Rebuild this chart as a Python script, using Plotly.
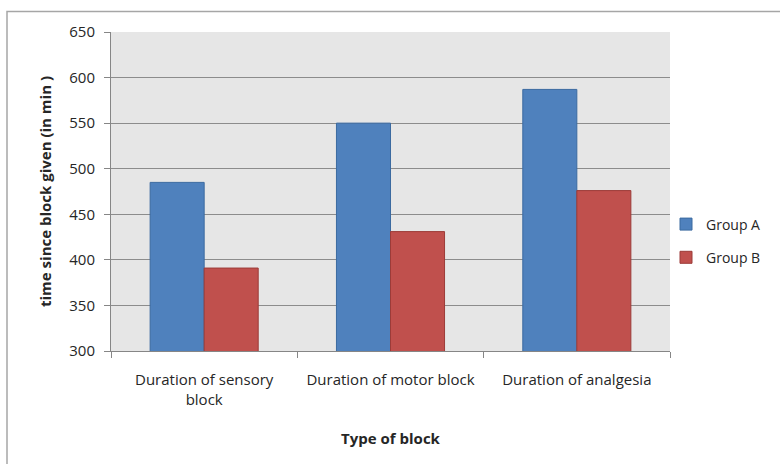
import plotly.graph_objects as go

categories = ["Duration of sensory<br>block", "Duration of motor block", "Duration of analgesia"]
group_a = [485, 550, 587]
group_b = [391, 431, 476]
series_names = ["Group A", "Group B"]
y_ticks = [300, 350, 400, 450, 500, 550, 600, 650]

FONT = "'Open Sans', sans-serif"
L, R, T, B = 111, 110, 32, 113
W, H = 780, 464
pw, ph = W - L - R, H - T - B

def px_x(px):
    return (px - L) / pw

def px_y(py):
    return (H - B - py) / ph

fig = go.Figure()
fig.add_trace(go.Bar(x=categories, y=group_a, name=series_names[0], legendgroup="a",
                     marker=dict(color="#4f81bd", line=dict(color="#3b6aa0", width=1))))
fig.add_trace(go.Bar(x=categories, y=group_b, name=series_names[1], legendgroup="b",
                     marker=dict(color="#c0504d", line=dict(color="#9c3b38", width=1))))

fig.update_layout(
    width=W, height=H,
    margin=dict(l=L, r=R, t=T, b=B, pad=0),
    paper_bgcolor="white",
    plot_bgcolor="#e6e6e6",
    barmode="group", bargap=0.42, bargroupgap=0,
    font=dict(family=FONT, size=15, color="#262626"),
    showlegend=True,
    legend=dict(x=px_x(666), y=px_y(241), xanchor="left", yanchor="middle",
                tracegroupgap=12, font=dict(size=14, color="#262626"),
                bgcolor="rgba(0,0,0,0)"),
    xaxis=dict(
        showline=True, linecolor="#868686", linewidth=1,
        ticks="outside", ticklen=6, tickcolor="#868686", tickson="boundaries",
        showgrid=False, tickfont=dict(size=15), ticklabelstandoff=15,
        title=dict(text="<b>Type of block</b>", font=dict(size=15), standoff=25),
    ),
    yaxis=dict(
        range=[300, 650], tickvals=y_ticks, ticktext=[str(v) for v in y_ticks],
        showline=True, linecolor="#868686", linewidth=1,
        ticks="outside", ticklen=6, tickcolor="#868686",
        showgrid=True, gridcolor="#8c8c8c", gridwidth=1,
        zeroline=False, tickfont=dict(size=15), ticklabelstandoff=6,
        title=dict(text="<b>time since block given (in min )</b>", font=dict(size=15), standoff=14),
    ),
)

fig.add_shape(type="rect", xref="paper", yref="paper",
              x0=px_x(7), x1=px_x(790), y0=px_y(480), y1=px_y(11.5),
              line=dict(color="#a6a6a6", width=1.5), fillcolor="rgba(0,0,0,0)", layer="below")

fig.write_html("out.html")
